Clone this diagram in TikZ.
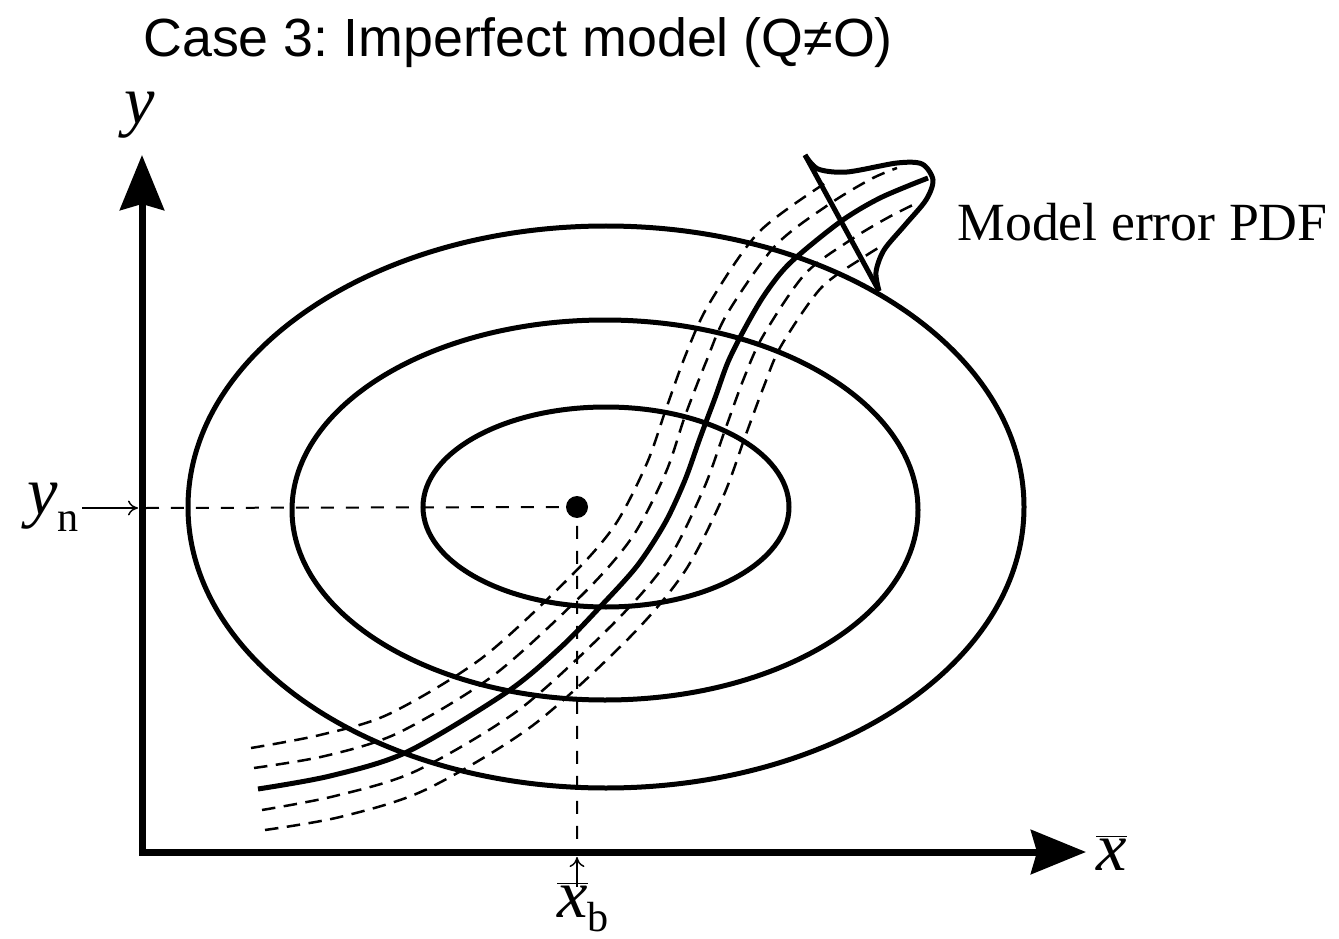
\documentclass[tikz,border=0pt]{standalone}
\usepackage{fontspec}
\setmainfont{Liberation Serif}
\newfontfamily\headfont{Liberation Sans}
\usetikzlibrary{arrows.meta}
\frenchspacing

\tikzset{
  axisline/.style={line width=0.14cm},
  contour/.style={line width=0.1cm},
  track/.style={line width=0.1cm, line join=round},
  spread/.style={line width=0.05cm, dash pattern=on 0.27cm off 0.17cm},
  guide/.style={line width=0.04cm, dash pattern=on 0.26cm off 0.24cm},
  pointer/.style={line width=0.03cm, -{Computer Modern Rightarrow[length=0.2cm,width=0.3cm]}},
  lbl/.style={inner sep=0pt, font=\fontsize{30.6}{36}\selectfont},
  symlbl/.style={inner sep=0pt, font=\fontsize{39}{46}\selectfont},
}
\newcommand{\lowsub}[2]{\raisebox{-#1}{\fontsize{24}{28}\selectfont\upshape #2}}

\begin{document}
\begin{tikzpicture}[x=0.02cm, y=-0.02cm]
\useasboundingbox (0,0) rectangle (1339,939);

% title
\node[lbl, font=\headfont\fontsize{30.6}{36}\selectfont, anchor=base west] (title) at (143,57) {Case 3: Imperfect model (Q≠O)};

% axes
\coordinate (O) at (142,852);
\coordinate (ytip) at (142,155);
\coordinate (xtip) at (1086,852);
\draw[axisline, {Stealth[length=1.1cm,width=0.88cm,inset=0.12cm]}-{Stealth[length=1.1cm,width=0.88cm,inset=0.12cm]}] (ytip) -- (O) -- (xtip);
\node[symlbl, anchor=base] (ylab) at (140,124) {\itshape y};
\node[symlbl, anchor=base west] (xlab) at (1096,870) {$\overline{\hbox{\itshape x}}$};

% error ellipses
\draw[contour] (606,507) ellipse (183 and 100);
\draw[contour] (605,510) ellipse (313 and 190);
\draw[contour] (606,507) ellipse (418 and 281);

% mean state and its projections
\node[circle, fill, inner sep=0pt, minimum size=0.44cm] (dot) at (577,507) {};
\coordinate (yhit) at (138,508);
\coordinate (xhit) at (577,857);
\draw[guide] (146,508) -- (dot.center) -- (577,850);

\node[symlbl, anchor=base east] (yn) at (79,514) {{\itshape y}\lowsub{0.36cm}{n}};
\draw[pointer] ([xshift=0.06cm]yn.east |- yhit) -- (yhit);
\node[symlbl, anchor=base west] (xb) at (557,917) {$\overline{\hbox{\itshape x}}$\lowsub{0.28cm}{b}};
\draw[pointer] ([yshift=-0.1cm]xb.north -| dot) -- (xhit);

% model trajectory
\draw[track] plot[smooth] coordinates {(258,789) (330,776) (407,752) (507,692) (560,648) (600,607) (637,566) (665,523) (685,480) (700,438) (715,398) (728,362) (745,328) (765,294) (790,263) (840,222) (880,198) (928,178)};

% spread round the trajectory
\draw[spread] plot[smooth] coordinates {(254,768) (325,756) (398,733) (494,675) (585,592) (633,536) (666,472) (685,416) (706,362) (727,314) (775,246) (828,205) (871,179) (897,168)};
\draw[spread] plot[smooth] coordinates {(251,748) (320,735) (389,714) (482,658) (570,577) (615,525) (647,463) (666,409) (686,354) (709,304) (759,232) (827,182)};
\draw[spread] plot[smooth] coordinates {(262,810) (335,796) (416,771) (520,709) (615,622) (668,560) (704,488) (725,430) (744,378) (763,336) (805,274) (852,239) (889,217) (917,203)};
\draw[spread] plot[smooth] coordinates {(265,830) (340,817) (425,790) (532,726) (630,637) (685,571) (723,497) (745,437) (764,386) (781,346) (821,288) (864,257) (880,247)};

% model error pdf
\coordinate (pdftop) at (805,155);
\coordinate (pdfbot) at (879,291);
\draw[contour] (pdftop) -- (pdfbot);
\draw[contour] plot[smooth] coordinates {(805,155) (818,169) (847,172) (897,163) (922,164) (933,180) (926,200) (905,225) (884,250) (876,272) (879,291)};
\node[lbl, anchor=base west] (pdflab) at (957,241) {Model error PDF};

\end{tikzpicture}
\end{document}
